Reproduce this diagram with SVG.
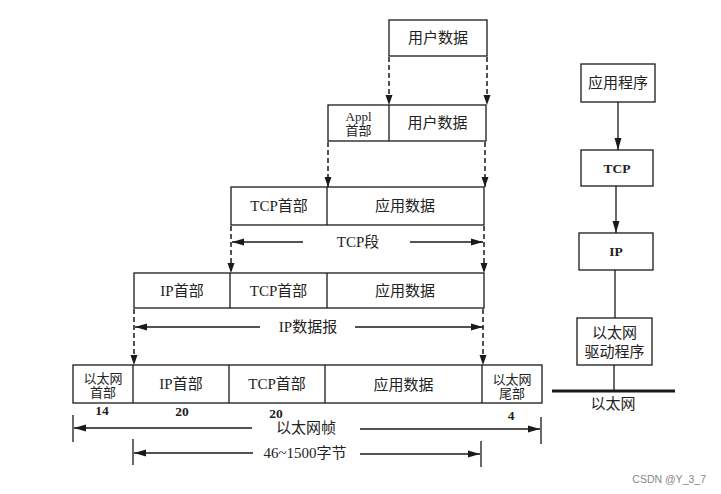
<svg xmlns="http://www.w3.org/2000/svg" width="721" height="494" viewBox="0 0 721 494">
<style>
.box{fill:#fff;stroke:#1a1a1a;stroke-width:1.3}
.div{stroke:#1a1a1a;stroke-width:1.3}
.t{font-family:"Liberation Serif","Noto Sans CJK SC",serif;font-size:15px;fill:#222;text-anchor:middle;dominant-baseline:central}
.s{font-size:13px}
.b{font-weight:bold;font-size:13.5px}
.dash{stroke:#1a1a1a;stroke-width:1.5;stroke-dasharray:5 3;fill:none}
.solid{stroke:#1a1a1a;stroke-width:1.3;fill:none}
.tick{stroke:#1a1a1a;stroke-width:1.3}
</style>
<defs>
<marker id="ah" viewBox="0 0 10 10" refX="10" refY="5" markerWidth="10" markerHeight="10" markerUnits="userSpaceOnUse" orient="auto">
<path d="M0,1.5 L10,5 L0,8.5 Z" fill="#1a1a1a"/>
</marker>
<marker id="ahw" viewBox="0 0 12 10" refX="12" refY="5" markerWidth="12" markerHeight="10" markerUnits="userSpaceOnUse" orient="auto">
<path d="M0,1.5 L12,5 L0,8.5 Z" fill="#1a1a1a"/>
</marker>
</defs>
<rect width="721" height="494" fill="#fff"/>

<g id="row1-userdata">
<rect class="box" x="389" y="20" width="98" height="36"/>
<text class="t" x="438" y="38">用户数据</text>
</g>

<g id="row2-appl">
<rect class="box" x="328" y="105" width="158" height="36"/>
<line class="div" x1="389" y1="105" x2="389" y2="141"/>
<text class="t s" x="358.5" y="116">Appl</text>
<text class="t s" x="358.5" y="130">首部</text>
<text class="t" x="437.5" y="123">用户数据</text>
</g>

<g id="row3-tcp">
<rect class="box" x="231" y="187" width="253" height="38"/>
<line class="div" x1="327" y1="187" x2="327" y2="225"/>
<text class="t" x="279" y="206">TCP首部</text>
<text class="t" x="405" y="206">应用数据</text>
</g>

<g id="row4-ip">
<rect class="box" x="134" y="273" width="350" height="35"/>
<line class="div" x1="230" y1="273" x2="230" y2="308"/>
<line class="div" x1="327" y1="273" x2="327" y2="308"/>
<text class="t" x="182" y="290.5">IP首部</text>
<text class="t" x="278.5" y="290.5">TCP首部</text>
<text class="t" x="405" y="291">应用数据</text>
</g>

<g id="row5-ethernet">
<rect class="box" x="73" y="365" width="469" height="38"/>
<line class="div" x1="133" y1="365" x2="133" y2="403"/>
<line class="div" x1="229" y1="365" x2="229" y2="403"/>
<line class="div" x1="325" y1="365" x2="325" y2="403"/>
<line class="div" x1="482" y1="365" x2="482" y2="403"/>
<text class="t s" x="103" y="378">以太网</text>
<text class="t s" x="103" y="392">首部</text>
<text class="t" x="181" y="384">IP首部</text>
<text class="t" x="277" y="384">TCP首部</text>
<text class="t" x="403.5" y="385">应用数据</text>
<text class="t s" x="512" y="379">以太网</text>
<text class="t s" x="512" y="393">尾部</text>
<text class="t b" x="102" y="410">14</text>
<text class="t b" x="182" y="411">20</text>
<text class="t b" x="276" y="413">20</text>
<text class="t b" x="511" y="415">4</text>
</g>

<g id="stack-app">
<rect class="box" x="581" y="64" width="74" height="38"/>
<text class="t" x="618" y="83">应用程序</text>
</g>
<g id="stack-tcp">
<rect class="box" x="581" y="150" width="72" height="36"/>
<text class="t b" x="617" y="168">TCP</text>
</g>
<g id="stack-ip">
<rect class="box" x="579" y="233" width="74" height="37"/>
<text class="t b" x="616" y="251.5">IP</text>
</g>
<g id="stack-driver">
<rect class="box" x="577" y="318" width="75" height="47"/>
<text class="t" x="614.5" y="333">以太网</text>
<text class="t" x="614.5" y="352">驱动程序</text>
</g>
<g id="stack-ethernet">
<line x1="552" y1="391" x2="675" y2="391" stroke="#1a1a1a" stroke-width="3"/>
<text class="t" x="613" y="404">以太网</text>
</g>

<g id="connectors">
<line class="dash" x1="389" y1="57" x2="389" y2="105" marker-end="url(#ah)"/>
<line class="dash" x1="487" y1="57" x2="487" y2="105" marker-end="url(#ah)"/>
<line class="dash" x1="328" y1="142" x2="328" y2="187" marker-end="url(#ah)"/>
<line class="dash" x1="485" y1="142" x2="485" y2="187" marker-end="url(#ah)"/>
<line class="dash" x1="231" y1="226" x2="231" y2="273" marker-end="url(#ah)"/>
<line class="dash" x1="484" y1="226" x2="484" y2="273" marker-end="url(#ah)"/>
<line class="dash" x1="134" y1="309" x2="134" y2="365" marker-end="url(#ah)"/>
<line class="dash" x1="483" y1="309" x2="483" y2="365" marker-end="url(#ah)"/>

<line class="solid" x1="303" y1="242" x2="232" y2="242" marker-end="url(#ahw)"/>
<line class="solid" x1="410" y1="242" x2="483" y2="242" marker-end="url(#ahw)"/>
<text class="t" x="358" y="242">TCP段</text>

<line class="solid" x1="260" y1="327" x2="135" y2="327" marker-end="url(#ahw)"/>
<line class="solid" x1="355" y1="327" x2="483" y2="327" marker-end="url(#ahw)"/>
<text class="t" x="308" y="327">IP数据报</text>

<line class="tick" x1="73" y1="415" x2="73" y2="442"/>
<line class="tick" x1="541" y1="417" x2="541" y2="444"/>
<line class="solid" x1="252" y1="428" x2="74" y2="428" marker-end="url(#ahw)"/>
<line class="solid" x1="360" y1="429" x2="540" y2="429" marker-end="url(#ahw)"/>
<text class="t" x="306" y="428">以太网帧</text>

<line class="tick" x1="133" y1="439" x2="133" y2="465"/>
<line class="tick" x1="481" y1="441" x2="481" y2="467"/>
<line class="solid" x1="253" y1="453" x2="134" y2="453" marker-end="url(#ahw)"/>
<line class="solid" x1="360" y1="454" x2="480" y2="454" marker-end="url(#ahw)"/>
<text class="t" x="305" y="453">46~1500字节</text>

<line class="solid" x1="618" y1="102" x2="618" y2="150" marker-end="url(#ahw)"/>
<line class="solid" x1="616" y1="186" x2="616" y2="233" marker-end="url(#ahw)"/>
<line class="solid" x1="615" y1="270" x2="615" y2="318"/>
<line class="solid" x1="614" y1="365" x2="614" y2="391"/>
</g>

<text x="706" y="479" font-family="Liberation Sans, Arial, sans-serif" font-size="10.5" fill="#888" text-anchor="end" dominant-baseline="central">CSDN @Y_3_7</text>
</svg>
